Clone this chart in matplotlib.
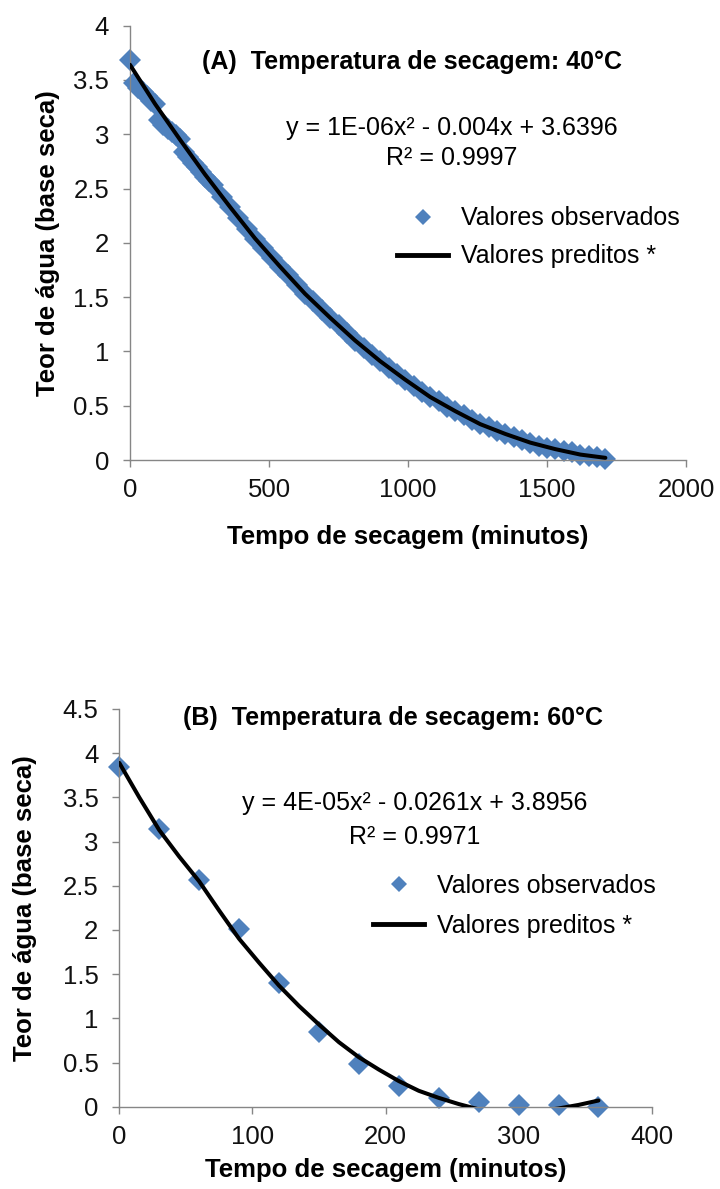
import matplotlib
matplotlib.use('Agg')
import matplotlib.pyplot as plt
from matplotlib.lines import Line2D


plt.rcParams['font.family'] = ['Liberation Sans', 'DejaVu Sans']

BLUE = '#4F81BD'
GREY = '#868686'

# (A) drying at 40 C
time_a = [0, 15, 30, 45, 60, 75, 90, 105, 120, 135, 150, 165, 180, 195, 210,
          225, 240, 255, 270, 285, 300, 330, 360, 390, 420, 450, 480, 510,
          540, 570, 600, 630, 660, 690, 720, 750, 780, 810, 840, 870, 900,
          930, 960, 990, 1020, 1050, 1080, 1110, 1140, 1170, 1200, 1230,
          1260, 1290, 1320, 1350, 1380, 1410, 1440, 1470, 1500, 1530, 1560,
          1590, 1620, 1650, 1680, 1710]
obs_a = [3.68, 3.47, 3.43, 3.39, 3.35, 3.31, 3.28, 3.13, 3.09, 3.05, 3.02,
         2.99, 2.96, 2.84, 2.79, 2.74, 2.70, 2.65, 2.61, 2.57, 2.53, 2.42,
         2.33, 2.23, 2.13, 2.04, 1.95, 1.86, 1.78, 1.70, 1.61, 1.53, 1.46,
         1.38, 1.31, 1.24, 1.17, 1.10, 1.03, 0.97, 0.91, 0.85, 0.79, 0.74,
         0.68, 0.63, 0.58, 0.54, 0.49, 0.45, 0.41, 0.37, 0.33, 0.30, 0.27,
         0.24, 0.21, 0.18, 0.16, 0.13, 0.11, 0.10, 0.08, 0.07, 0.05, 0.04,
         0.03, 0.01]
pred_time_a = [0, 90, 180, 270, 360, 450, 540, 630, 720, 810, 900, 990,
               1080, 1170, 1260, 1350, 1440, 1530, 1620, 1710]
pred_a = [3.64, 3.28, 2.95, 2.63, 2.33, 2.04, 1.78, 1.53, 1.31, 1.10, 0.91,
          0.74, 0.58, 0.45, 0.33, 0.24, 0.16, 0.10, 0.05, 0.02]

# (B) drying at 60 C
time_b = [0, 30, 60, 90, 120, 150, 180, 210, 240, 270, 300, 330, 360]
obs_b = [3.84, 3.14, 2.57, 2.01, 1.40, 0.84, 0.48, 0.23, 0.10, 0.05, 0.02,
         0.02, 0.00]
pred_time_b = [0, 15, 30, 45, 60, 75, 90, 105, 120, 135, 150, 165, 180, 195,
               210, 225, 240, 255, 270, 285, 300, 315, 330, 345, 360]
pred_b = [3.89, 3.50, 3.13, 2.83, 2.55, 2.22, 1.90, 1.63, 1.37, 1.14, 0.93,
          0.73, 0.56, 0.42, 0.29, 0.18, 0.10, 0.03, -0.03, -0.05, -0.06,
          -0.05, -0.02, 0.02, 0.07]

yticks_a = [0, 0.5, 1, 1.5, 2, 2.5, 3, 3.5, 4]
xticks_a = [0, 500, 1000, 1500, 2000]
yticks_b = [0, 0.5, 1, 1.5, 2, 2.5, 3, 3.5, 4, 4.5]
xticks_b = [0, 100, 200, 300, 400]

FS = 18


def tick_label(v):
    return ('%g' % v)


def style(ax, xticks, yticks):
    for side in ('top', 'right'):
        ax.spines[side].set_visible(False)
    for side in ('left', 'bottom'):
        ax.spines[side].set_color(GREY)
        ax.spines[side].set_linewidth(1.0)
    ax.set_xlim(xticks[0], xticks[-1])
    ax.set_ylim(yticks[0], yticks[-1])
    ax.set_xticks(xticks)
    ax.set_yticks(yticks)
    ax.set_xticklabels([tick_label(v) for v in xticks])
    ax.set_yticklabels([tick_label(v) for v in yticks])
    ax.tick_params(direction='out', length=5, width=1, color=GREY,
                   labelsize=18.5, labelcolor='#111111')
    ax.tick_params(axis='y', pad=10)
    ax.tick_params(axis='x', pad=8)


def panel(ax, t, obs, pt, pred, xticks, yticks, title, eq, r2,
          title_xy, eq_xy, r2_xy, leg_xy, leg_gap, xlab_y, ylab_x):
    style(ax, xticks, yticks)
    ax.plot(t, obs, linestyle='none', marker='D', markersize=11,
            color=BLUE, markeredgewidth=0, clip_on=False, zorder=2)
    ax.plot(pt, pred, color='black', linewidth=2.9, zorder=3,
            solid_capstyle='round')

    ax.text(*title_xy, title, transform=ax.transAxes, ha='center',
            va='center', fontsize=FS, fontweight='bold')
    ax.text(*eq_xy, eq, transform=ax.transAxes, ha='center', va='center',
            fontsize=FS)
    ax.text(*r2_xy, r2, transform=ax.transAxes, ha='center', va='center',
            fontsize=FS)

    handles = [
        Line2D([], [], linestyle='none', marker='D', markersize=8.5,
               color=BLUE, markeredgewidth=0),
        Line2D([], [], color='black', linewidth=3.5),
    ]
    ax.legend(handles, ['Valores observados', 'Valores preditos *'],
              loc='upper left', bbox_to_anchor=leg_xy, frameon=False,
              fontsize=FS, handlelength=2.05, handletextpad=0.5,
              labelspacing=leg_gap, borderpad=0, borderaxespad=0)

    ax.set_xlabel('Tempo de secagem (minutos)', fontsize=FS + 0.5,
                  fontweight='bold')
    ax.set_ylabel('Teor de água (base seca)', fontsize=FS + 0.5,
                  fontweight='bold')
    ax.xaxis.set_label_coords(0.5, xlab_y)
    ax.yaxis.set_label_coords(ylab_x, 0.5)


fig = plt.figure(figsize=(7.2, 11.89), dpi=100)
W, H = 720.0, 1189.0

ax_a = fig.add_axes([130 / W, 1 - 460 / H, 556 / W, 434.3 / H])
ax_b = fig.add_axes([119.3 / W, 1 - 1106.7 / H, 532.4 / W, 397.7 / H])

panel(ax_a, time_a, obs_a, pred_time_a, pred_a, xticks_a, yticks_a,
      '(A)  Temperatura de secagem: 40°C',
      'y = 1E-06x² - 0.004x + 3.6396', 'R² = 0.9997',
      (0.507, 0.917), (0.578, 0.764), (0.578, 0.695), (0.48, 0.584), 0.56,
      -0.15, -0.126)

panel(ax_b, time_b, obs_b, pred_time_b, pred_b, xticks_b, yticks_b,
      '(B)  Temperatura de secagem: 60°C',
      'y = 4E-05x² - 0.0261x + 3.8956', 'R² = 0.9971',
      (0.514, 0.977), (0.554, 0.764), (0.554, 0.679), (0.4765, 0.586), 0.65,
      -0.13, -0.155)

fig.savefig('out.png', dpi=100)
